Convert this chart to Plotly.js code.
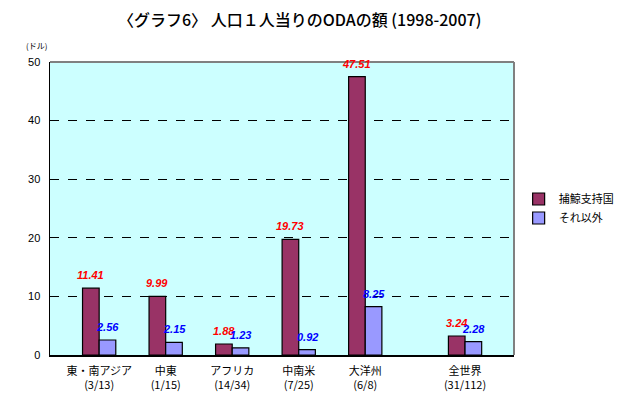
<!DOCTYPE html>
<html>
<head>
<meta charset="utf-8">
<script src="https://cdn.plot.ly/plotly-3.0.1.min.js"></script>
<style>html,body{margin:0;padding:0;background:#fff;}#chart{width:631px;height:399px;}</style>
</head>
<body>
<div id="chart"></div>
<script>
const categories = ["東・南アジア<br>(3/13)", "中東<br>(1/15)", "アフリカ<br>(14/34)", "中南米<br>(7/25)", "大洋州<br>(6/8)", "全世界<br>(31/112)"];
const positions = [0, 1, 2, 3, 4, 5.5];
const whalingSupport = [11.41, 9.99, 1.88, 19.73, 47.51, 3.24];
const others = [2.56, 2.15, 1.23, 0.92, 8.25, 2.28];
const seriesNames = ["捕鯨支持国", "それ以外"];
const yTicks = [0, 10, 20, 30, 40, 50];

const jp = '"Noto Sans CJK JP", "DejaVu Sans", sans-serif';
const BW = 0.25;

const traces = [
  {type: 'bar', name: seriesNames[0], x: positions, y: whalingSupport,
   offset: -BW, width: BW,
   marker: {color: '#993366', line: {color: '#000', width: 1.2}}},
  {type: 'bar', name: seriesNames[1], x: positions, y: others,
   offset: 0, width: BW,
   marker: {color: '#9999FF', line: {color: '#000', width: 1.2}}}
];

const annotations = [];
positions.forEach((p, i) => {
  annotations.push({x: p - BW/2, y: whalingSupport[i], xref: 'x', yref: 'y',
    text: whalingSupport[i].toFixed(2), showarrow: false, yanchor: 'bottom', yshift: 5,
    font: {family: 'Arial, "Liberation Sans", sans-serif', size: 11, color: '#FF0000', weight: 'bold', style: 'italic'}});
  annotations.push({x: p + BW/2, y: others[i], xref: 'x', yref: 'y',
    text: others[i].toFixed(2), showarrow: false, yanchor: 'bottom', yshift: 5,
    font: {family: 'Arial, "Liberation Sans", sans-serif', size: 11, color: '#0000FF', weight: 'bold', style: 'italic'}});
});
annotations.push({x: (22 - 50) / 491, y: 1 + (62 - 45) / 293, xref: 'paper', yref: 'paper', text: '(ドル)', showarrow: false,
  xanchor: 'left', yanchor: 'middle', font: {family: jp, size: 8, color: '#000'}});

const layout = {
  width: 631, height: 399,
  margin: {l: 50, r: 90, t: 62, b: 44},
  paper_bgcolor: '#FFFFFF',
  plot_bgcolor: '#CCFFFF',
  title: {text: '〈グラフ6〉 人口１人当りのODAの額 (1998-2007)',
    font: {family: jp, size: 16, color: '#000', weight: 500},
    x: 0.475, xanchor: 'center', y: 0.95, yanchor: 'middle'},
  showlegend: true,
  legend: {x: 1.01, xanchor: 'left', y: 0.5, yanchor: 'middle',
    font: {family: jp, size: 11, color: '#000'},
    itemwidth: 30, tracegroupgap: 2, bgcolor: 'rgba(0,0,0,0)'},
  xaxis: {range: [-0.739, 6.236], tickvals: positions, ticktext: categories,
    showgrid: false, zeroline: false, showline: true, linecolor: '#000', linewidth: 1.5,
    ticks: '', ticklabelstandoff: 5, tickfont: {family: jp, size: 11, color: '#000'}, fixedrange: true},
  yaxis: {range: [0, 50], tickvals: yTicks, showgrid: true, gridcolor: '#000',
    griddash: 'dash', gridwidth: 1, zeroline: false, showline: true, linecolor: '#000', linewidth: 1.5,
    ticks: '', ticklabelstandoff: 6, tickfont: {family: 'Arial, "Liberation Sans", sans-serif', size: 11, color: '#000'}},
  annotations: annotations,
  shapes: [
    {type: 'line', xref: 'paper', yref: 'paper', x0: 0, x1: 1, y0: 1, y1: 1, line: {color: '#808080', width: 2}},
    {type: 'line', xref: 'paper', yref: 'paper', x0: 1, x1: 1, y0: 0, y1: 1, line: {color: '#808080', width: 2}}
  ],
  bargap: 0.5, bargroupgap: 0
};

Plotly.newPlot('chart', traces, layout, {displayModeBar: false, staticPlot: true});
</script>
</body>
</html>
